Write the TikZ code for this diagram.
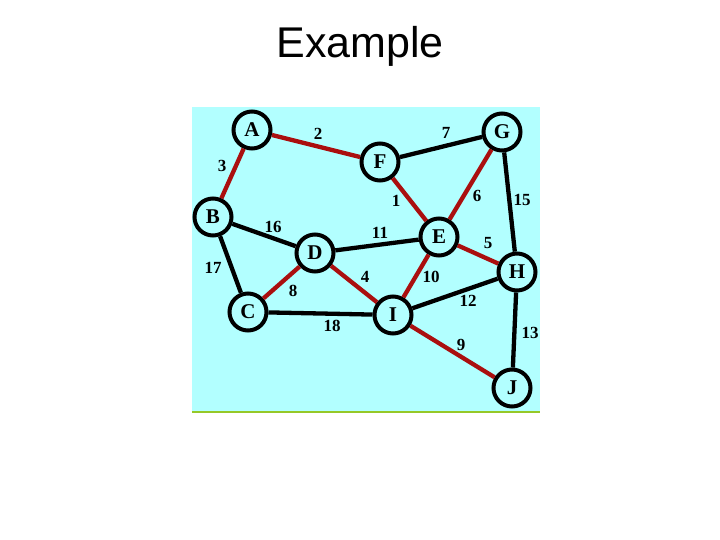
\documentclass[tikz,border=0pt]{standalone}
\usepackage{fontspec}
\setmainfont{Liberation Serif}
\newfontfamily\titlefont{Liberation Sans}
\definecolor{bgcyan}{RGB}{178,255,255}
\definecolor{edgered}{RGB}{170,15,15}
\definecolor{linegreen}{RGB}{150,200,40}
\begin{document}
\begin{tikzpicture}[x=1pt,y=-1pt,
  vtx/.style={circle,draw=black,line width=4pt,fill=bgcyan,minimum size=37pt,inner sep=0pt,font=\fontsize{21}{21}\selectfont\bfseries},
  blk/.style={line width=4.3pt,draw=black},
  red/.style={line width=4.3pt,draw=edgered},
  wt/.style={font=\fontsize{17}{17}\selectfont\bfseries,inner sep=0pt}]
\useasboundingbox (0,0) rectangle (720,540);
\fill[bgcyan] (192,107) rectangle (540,412);
\draw[linegreen,line width=2.5pt] (192,412) -- (540,412);
\node[font=\titlefont\fontsize{43}{43}\selectfont] (title) at (360,46) {Example};
\node[vtx] (A) at (252,130) {A};
\node[vtx] (B) at (213,217) {B};
\node[vtx] (C) at (248,312) {C};
\node[vtx] (D) at (315,253) {D};
\node[vtx] (E) at (439,237) {E};
\node[vtx] (F) at (380,162) {F};
\node[vtx] (G) at (502,132) {G};
\node[vtx] (H) at (517,272) {H};
\node[vtx] (I) at (393,315) {I};
\node[vtx] (J) at (512,388) {J};
\draw[red] (A) -- (B);
\draw[red] (A) -- (F);
\draw[red] (F) -- (E);
\draw[red] (E) -- (G);
\draw[red] (E) -- (H);
\draw[red] (D) -- (C);
\draw[red] (D) -- (I);
\draw[red] (E) -- (I);
\draw[red] (I) -- (J);
\draw[blk] (F) -- (G);
\draw[blk] (G) -- (H);
\draw[blk] (B) -- (D);
\draw[blk] (D) -- (E);
\draw[blk] (B) -- (C);
\draw[blk] (C) -- (I);
\draw[blk] (I) -- (H);
\draw[blk] (H) -- (J);
\node[wt] (w2) at (318,134) {2};
\node[wt] (w7) at (446,133) {7};
\node[wt] (w3) at (222,166) {3};
\node[wt] (w1) at (396,201) {1};
\node[wt] (w6) at (477,196) {6};
\node[wt] (w15) at (522,200) {15};
\node[wt] (w16) at (273,227) {16};
\node[wt] (w11) at (380,233) {11};
\node[wt] (w5) at (488,243) {5};
\node[wt] (w17) at (213,268) {17};
\node[wt] (w4) at (365,277) {4};
\node[wt] (w10) at (431,277) {10};
\node[wt] (w12) at (468,301) {12};
\node[wt] (w8) at (293,291) {8};
\node[wt] (w18) at (332,326) {18};
\node[wt] (w9) at (461,345) {9};
\node[wt] (w13) at (530,333) {13};
\end{tikzpicture}
\end{document}
